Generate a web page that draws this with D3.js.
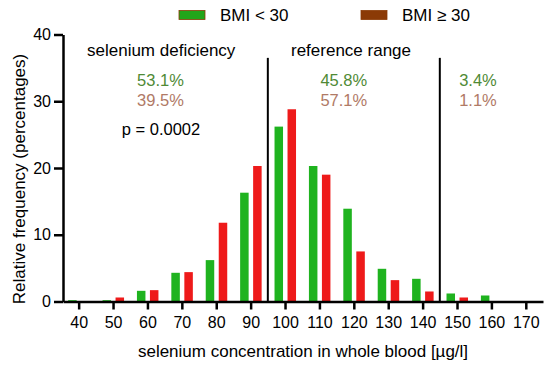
<!DOCTYPE html>
<html>
<head>
<meta charset="utf-8">
<script src="https://cdn.jsdelivr.net/npm/d3@7"></script>
<style>
  body { margin: 0; background: #fff; }
  svg text { font-family: "Liberation Sans", Arial, sans-serif; }
</style>
</head>
<body>
<div id="chart"></div>
<script>
const width = 550;
const height = 369;

// bin centres (µg/l) and relative frequencies (%)
const bins = [40, 50, 60, 70, 80, 90, 100, 110, 120, 130, 140, 150, 160, 170];
const bmiLow = [0.2, 0.2, 1.6, 4.3, 6.2, 16.3, 26.2, 20.3, 13.9, 4.9, 3.4, 1.2, 0.9, 0];
const bmiHigh = [0, 0.6, 1.7, 4.4, 11.8, 20.3, 28.8, 19.0, 7.5, 3.2, 1.5, 0.6, 0, 0];
const yTicks = [0, 10, 20, 30, 40];
const cutoffs = [95, 145];
const rangeLabels = ["selenium deficiency", "reference range"];
const pctLow = ["53.1%", "45.8%", "3.4%"];
const pctHigh = ["39.5%", "57.1%", "1.1%"];
const pctAt = [63.8, 117.1, 156.1];
const seriesNames = ["BMI < 30", "BMI \u2265 30"];

const svg = d3.select("#chart")
    .append("svg")
    .attr("width", width)
    .attr("height", height);

const x = d3.scaleLinear().domain([35.45, 175]).range([63, 543]);
const y = d3.scaleLinear().domain([0, 40]).range([301.5, 34.5]);

// bars
const barW = 8.5;
svg.append("g").selectAll("rect")
    .data(bins.map((b, i) => ({ b: b, v: bmiLow[i] })).filter((d) => d.v > 0))
    .enter().append("rect")
    .attr("x", (d) => x(d.b) - 10.5)
    .attr("width", barW)
    .attr("y", (d) => y(d.v))
    .attr("height", (d) => y(0) - y(d.v))
    .attr("fill", "#1fb31f");
svg.append("g").selectAll("rect")
    .data(bins.map((b, i) => ({ b: b, v: bmiHigh[i] })).filter((d) => d.v > 0))
    .enter().append("rect")
    .attr("x", (d) => x(d.b) + 2.5)
    .attr("width", barW)
    .attr("y", (d) => y(d.v))
    .attr("height", (d) => y(0) - y(d.v))
    .attr("fill", "#ee1a1a");

// cutoff lines
svg.append("g").selectAll("line")
    .data(cutoffs)
    .enter().append("line")
    .attr("x1", (d) => x(d)).attr("x2", (d) => x(d))
    .attr("y1", y(36.5)).attr("y2", y(0))
    .attr("stroke", "#000")
    .attr("stroke-width", 2);

// axes
const xAxis = svg.append("g")
    .attr("transform", `translate(0,${y(0)})`)
    .call(d3.axisBottom(x).tickValues(bins).tickSize(8).tickPadding(7).tickSizeOuter(0));
const yAxis = svg.append("g")
    .attr("transform", `translate(${x.range()[0]},0)`)
    .call(d3.axisLeft(y).tickValues(yTicks).tickSize(9).tickPadding(3).tickSizeOuter(0));
[xAxis, yAxis].forEach((a) => {
    a.select(".domain").attr("stroke-width", 2.5);
    a.selectAll(".tick line").attr("stroke-width", 2.5);
    a.selectAll(".tick text").attr("font-size", 16).attr("fill", "#000")
        .attr("font-family", "Liberation Sans, Arial, sans-serif");
});

// axis titles
svg.append("text")
    .attr("x", 303).attr("y", 357)
    .attr("text-anchor", "middle")
    .attr("font-size", 17)
    .text("selenium concentration in whole blood [\u00b5g/l]");
svg.append("text")
    .attr("transform", "translate(25,179) rotate(-90)")
    .attr("text-anchor", "middle")
    .attr("font-size", 17)
    .text("Relative frequency (percentages)");

// range labels
svg.append("text").attr("x", 87).attr("y", 56).attr("font-size", 17).text(rangeLabels[0]);
svg.append("text").attr("x", 291).attr("y", 56).attr("font-size", 17).text(rangeLabels[1]);

// percentages
svg.append("g").selectAll("text")
    .data(pctLow).enter().append("text")
    .attr("x", (d, i) => x(pctAt[i])).attr("y", 86)
    .attr("text-anchor", "middle").attr("font-size", 16.5)
    .attr("fill", "#4f8a35")
    .text((d) => d);
svg.append("g").selectAll("text")
    .data(pctHigh).enter().append("text")
    .attr("x", (d, i) => x(pctAt[i])).attr("y", 106)
    .attr("text-anchor", "middle").attr("font-size", 16.5)
    .attr("fill", "#b07a66")
    .text((d) => d);
svg.append("text").attr("x", 161).attr("y", 135)
    .attr("text-anchor", "middle").attr("font-size", 16.5)
    .text("p = 0.0002");

// legend
const legend = [
    { name: seriesNames[0], fill: "#22a51a", x: 179 },
    { name: seriesNames[1], fill: "#8b3a06", x: 361 }
];
const lg = svg.append("g").selectAll("g").data(legend).enter().append("g");
lg.append("rect")
    .attr("x", (d) => d.x).attr("y", 10.5)
    .attr("width", 26).attr("height", 9)
    .attr("fill", (d) => d.fill)
    .attr("stroke", "#8b3a06").attr("stroke-width", 0.8);
lg.append("text")
    .attr("x", (d) => d.x + 41).attr("y", 21)
    .attr("font-size", 17)
    .text((d) => d.name);
</script>
</body>
</html>
